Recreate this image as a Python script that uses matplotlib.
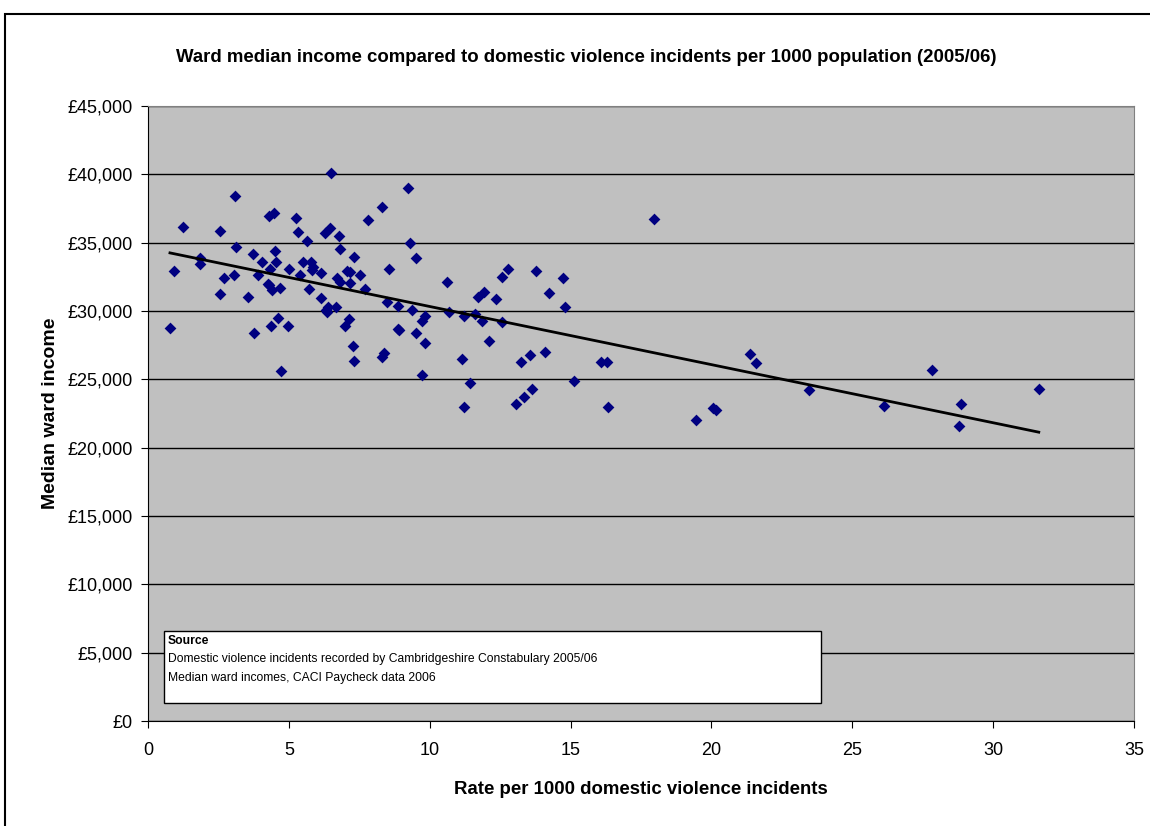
import matplotlib.pyplot as plt
import matplotlib.ticker as mticker
from matplotlib.patches import Rectangle
import numpy as np

plt.rcParams['font.family'] = ['Liberation Sans', 'DejaVu Sans']

# rate per 1000 domestic violence incidents, ward median income (GBP)
rate = [0.78, 0.92, 1.24, 1.85, 1.86, 2.54, 2.56, 2.7, 3.1, 3.12, 3.06, 3.55,
        3.74, 3.78, 3.92, 4.05, 4.32, 4.26, 4.31, 4.48, 4.35, 4.51, 4.55, 4.31,
        4.4, 4.67, 4.63, 4.73, 4.97, 5.0, 5.25, 5.32, 5.4, 5.49, 5.64, 5.7,
        5.8, 5.83, 5.87, 6.13, 6.15, 6.27, 6.32, 6.39, 6.36, 6.5, 6.47, 6.66,
        6.78, 6.8, 6.8, 6.72, 6.98, 7.07, 7.12, 7.17, 7.17, 7.27, 7.32, 7.33,
        7.54, 7.69, 7.81, 8.3, 8.3, 8.39, 8.47, 8.55, 8.88, 8.87, 8.91, 9.24,
        9.3, 9.38, 9.5, 9.53, 9.71, 9.71, 9.82, 9.84,
        10.6, 10.7, 11.2, 11.13, 11.2, 11.43, 11.6, 11.7, 11.86, 11.93, 12.1,
        12.36, 12.56, 12.57, 12.77, 13.08, 13.25, 13.34, 13.56, 13.62, 13.76,
        14.09, 14.25, 14.73, 14.8, 15.13, 16.08, 16.3, 16.33, 17.97,
        19.46, 20.06, 20.16, 21.38, 21.58, 23.46, 26.12, 27.83, 28.8, 28.86,
        31.62]
income = [28780, 32950, 36150, 33900, 33460, 31270, 35880, 32390, 38390, 34680,
          32660, 31050, 34150, 28390, 32660, 33590, 33070, 32000, 36950, 37200,
          28900, 34410, 33600, 31900, 31540, 31680, 29510, 25590, 28900, 33070,
          36780, 35780, 32610, 33590, 35140, 31590, 33600, 33000, 33200, 30980,
          32760, 35690, 30070, 30270, 29950, 40070, 36040, 30320, 35490, 34510,
          32100, 32440, 28880, 32950, 29390, 32850, 32070, 27460, 33950, 26360,
          32660, 31630, 36660, 37590, 26630, 26950, 30660, 33070, 28660, 30370,
          28600, 38970, 34950, 30050, 28410, 33900, 29270, 25300, 29640, 27680,
          32100, 29900, 29600, 26500, 23000, 24700, 29800, 31000, 29300, 31400,
          27800, 30900, 29200, 32500, 33100, 23200, 26300, 23700, 26800, 24300,
          32900, 27000, 31300, 32400, 30300, 24900, 26300, 26300, 22950, 36750,
          22000, 22900, 22750, 26880, 26200, 24200, 23070, 25650, 21560, 23200,
          24270]

title = 'Ward median income compared to domestic violence incidents per 1000 population (2005/06)'
source_lines = ['Domestic violence incidents recorded by Cambridgeshire Constabulary 2005/06',
                'Median ward incomes, CACI Paycheck data 2006']

W, H = 1150, 826
fig = plt.figure(figsize=(W / 100, H / 100), dpi=100)
# outer chart border
fig.patches.append(Rectangle((5 / W, -0.1), 1.2, 1 - 14 / H + 0.1,
                             transform=fig.transFigure, fill=False,
                             edgecolor='black', linewidth=1.5))

ax = fig.add_axes([148 / W, 1 - 721 / H, (1134 - 148) / W, (721 - 106) / H])
ax.set_facecolor('#C0C0C0')

ax.scatter(rate, income, marker='D', s=36, color='#000080', zorder=3, linewidths=0)

# linear trend line
coef = np.polyfit(rate, income, 1)
xs = np.array([min(rate), max(rate)])
ax.plot(xs, np.polyval(coef, xs), color='black', linewidth=2, zorder=4)

ax.set_xlim(0, 35)
ax.set_ylim(0, 45000)
ax.set_xticks(range(0, 36, 5))
ax.set_yticks(range(0, 45001, 5000))
ax.yaxis.set_major_formatter(mticker.FuncFormatter(lambda v, p: '£{:,.0f}'.format(v)))
ax.grid(axis='y', color='black', linewidth=1)
ax.set_axisbelow(True)
ax.tick_params(labelsize=13, direction='out', length=5, color='black')
ax.tick_params(axis='x', pad=10)
ax.tick_params(axis='y', pad=6)

for s in ['top', 'right']:
    ax.spines[s].set_color('#808080')
for s in ['left', 'bottom']:
    ax.spines[s].set_color('black')

fig.text(641 / W, 1 - 789 / H, 'Rate per 1000 domestic violence incidents',
         fontsize=13.4, fontweight='bold', ha='center', va='center')
fig.text(51 / W, 1 - 413 / H, 'Median ward income', fontsize=14,
         fontweight='bold', ha='center', va='center', rotation=90)
fig.text(586 / W, 1 - 58 / H, title, fontsize=13.4, fontweight='bold',
         ha='center', va='center')

# source box
fig.patches.append(Rectangle((164 / W, 1 - 703 / H), 657 / W, 72 / H,
                             transform=fig.transFigure, facecolor='white',
                             edgecolor='black', linewidth=1, zorder=5))
box_x = 168 / W
fig.text(box_x, 1 - 641 / H, 'Source', fontsize=8.7, fontweight='bold', va='center', zorder=6)
fig.text(box_x, 1 - 659 / H, source_lines[0], fontsize=8.7, va='center', zorder=6)
fig.text(box_x, 1 - 678 / H, source_lines[1], fontsize=8.7, va='center', zorder=6)

fig.savefig('out.png', dpi=100)
